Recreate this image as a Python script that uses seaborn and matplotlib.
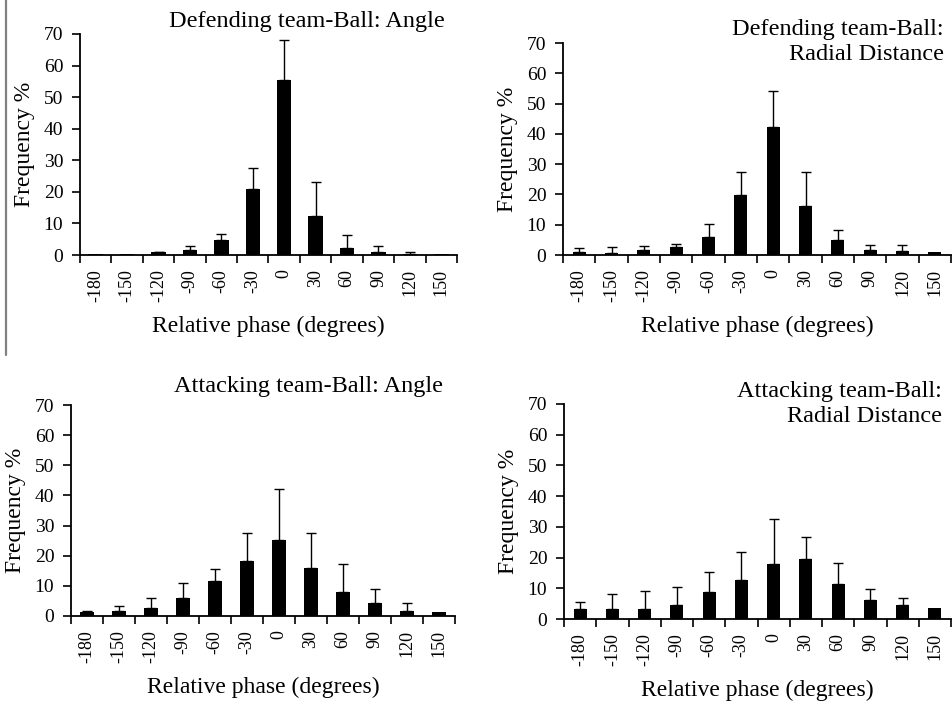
import matplotlib
matplotlib.use("Agg")
import matplotlib.pyplot as plt
from matplotlib.lines import Line2D
from matplotlib.ticker import FixedLocator, NullFormatter
import numpy as np
import pandas as pd
import seaborn as sns

# ---------------- data ----------------
phase_labels = ["-180", "-150", "-120", "-90", "-60", "-30", "0", "30", "60", "90", "120", "150"]

def_angle_mean = [0.3, 0.3, 0.8, 1.5, 4.6, 21.0, 55.5, 12.3, 2.3, 0.8, 0.3, 0.2]
def_angle_sd = [0.0, 0.0, 0.2, 1.2, 2.0, 6.4, 12.7, 10.9, 4.0, 1.9, 0.6, 0.0]

def_radial_mean = [1.0, 0.5, 1.7, 2.7, 5.8, 19.9, 42.4, 16.3, 4.8, 1.7, 1.2, 1.0]
def_radial_sd = [1.2, 2.1, 1.4, 0.9, 4.4, 7.4, 11.6, 11.0, 3.4, 1.5, 2.0, 0.0]

att_angle_mean = [1.2, 1.8, 2.5, 6.0, 11.7, 18.3, 25.3, 15.8, 8.0, 4.3, 1.8, 1.2]
att_angle_sd = [0.6, 1.6, 3.5, 5.0, 4.0, 9.1, 16.7, 11.6, 9.2, 4.8, 2.6, 0.0]

att_radial_mean = [3.2, 3.2, 3.2, 4.7, 8.7, 12.6, 18.0, 19.5, 11.5, 6.1, 4.6, 3.6]
att_radial_sd = [2.3, 4.8, 5.8, 5.7, 6.7, 9.3, 14.6, 7.1, 6.8, 3.8, 2.4, 0.0]

titles = [
    "Defending team-Ball: Angle",
    "Defending team-Ball:\nRadial Distance",
    "Attacking team-Ball: Angle",
    "Attacking team-Ball:\nRadial Distance",
]
y_ticks = [0, 10, 20, 30, 40, 50, 60, 70]
x_label = "Relative phase (degrees)"
y_label = "Frequency %"

# ---------------- style ----------------
sns.set_theme(style="white")
plt.rcParams["font.family"] = ["Liberation Serif", "DejaVu Serif"]
plt.rcParams["text.color"] = "black"
plt.rcParams["axes.labelcolor"] = "black"
plt.rcParams["xtick.color"] = "black"
plt.rcParams["ytick.color"] = "black"

W, H = 952, 707
fig = plt.figure(figsize=(W / 100, H / 100), dpi=100)
fig.patch.set_facecolor("white")

# panel boxes in pixels: left, right, top(=70), bottom(=0)
boxes = [
    (80, 457, 34, 255),
    (563, 951, 43, 255),
    (71, 455, 405, 616),
    (564, 951, 404, 619),
]
# title anchor (right x px, baseline y px of the last line)
title_pos = [(445, 27), (944, 60), (443, 392), (942, 422)]
bar_widths = [0.46, 0.41, 0.41, 0.41]

series = [
    (def_angle_mean, def_angle_sd),
    (def_radial_mean, def_radial_sd),
    (att_angle_mean, att_angle_sd),
    (att_radial_mean, att_radial_sd),
]

for i, ((l, r, t, b), (mean, sd)) in enumerate(zip(boxes, series)):
    ax = fig.add_axes([l / W, 1 - b / H, (r - l) / W, (b - t) / H])
    df = pd.DataFrame({"phase": phase_labels, "freq": mean, "sd": sd})
    sns.barplot(data=df, x="phase", y="freq", order=phase_labels, color="black",
                saturation=1, width=bar_widths[i], errorbar=None, ax=ax,
                edgecolor="black", linewidth=0)
    xs = np.arange(len(phase_labels))
    sd_arr = np.array(sd)
    m = sd_arr > 0
    ax.errorbar(xs[m], np.array(mean)[m], yerr=[np.zeros(m.sum()), sd_arr[m]],
                fmt="none", ecolor="black", elinewidth=1.0, capsize=3.6,
                capthick=1.0, zorder=1)
    ax.set_xlim(-0.5, len(phase_labels) - 0.5)
    ax.set_ylim(0, 70)
    ax.set_yticks(y_ticks)
    ax.set_yticklabels([str(v) for v in y_ticks], fontsize=14)
    # labels at category centres, tick marks at boundaries
    ax.set_xticks(xs)
    ax.set_xticklabels(phase_labels, rotation=90, fontsize=13)
    ax.tick_params(axis="x", which="major", length=0, pad=10)
    ax.xaxis.set_minor_locator(FixedLocator(np.arange(-0.5, len(phase_labels), 1.0)))
    ax.xaxis.set_minor_formatter(NullFormatter())
    ax.tick_params(axis="x", which="minor", length=6, width=1.2, direction="out", bottom=True)
    ax.tick_params(axis="y", which="major", length=6, width=1.2, direction="out", left=True, pad=6)
    for s in ["top", "right"]:
        ax.spines[s].set_visible(False)
    for s in ["left", "bottom"]:
        ax.spines[s].set_color("black")
        ax.spines[s].set_linewidth(1.3)
    ax.set_xlabel(x_label, fontsize=17, labelpad=10)
    ax.set_ylabel(y_label, fontsize=17, labelpad=6)
    tx, ty = title_pos[i]
    ax.text((tx - l) / (r - l), (b - ty) / (b - t), titles[i], transform=ax.transAxes,
            ha="right", va="baseline", fontsize=17.5, linespacing=1.25,
            multialignment="right")

# thin grey separator line at the upper left
fig.add_artist(Line2D([6 / W, 6 / W], [1, 1 - 355 / H], color="#808080", lw=1.6))

fig.savefig("out.png", dpi=100, facecolor="white")
